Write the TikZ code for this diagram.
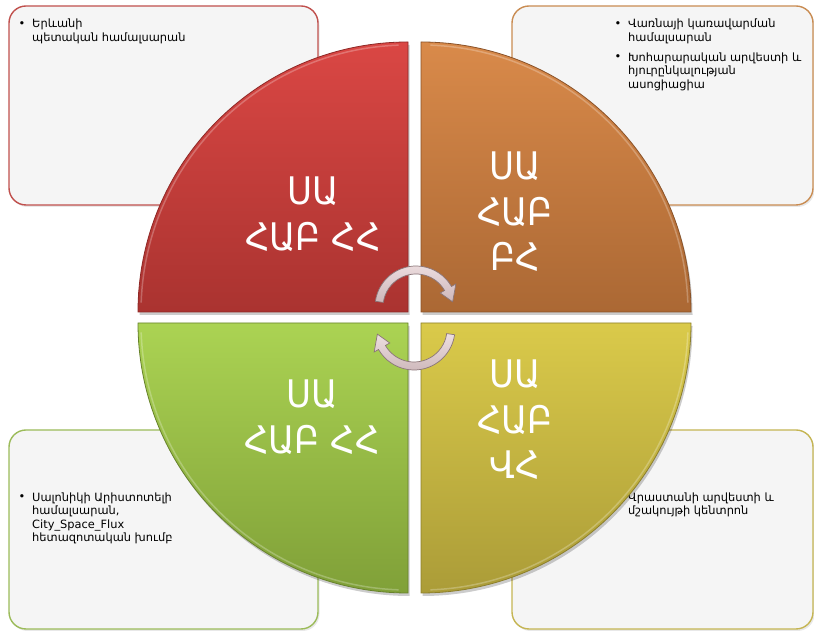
\documentclass[tikz,border=0pt]{standalone}
\usepackage{fontspec}
\setmainfont{DejaVu Sans}
\newfontfamily\bigfont[FakeStretch=0.9]{DejaVu Sans}
\usetikzlibrary{shadows}
\definecolor{boxfill}{HTML}{F5F5F5}
\definecolor{bRed}{HTML}{C0504D}
\definecolor{bOrange}{HTML}{C98C52}
\definecolor{bGreen}{HTML}{9BBB59}
\definecolor{bOlive}{HTML}{C5B553}
\definecolor{redA}{HTML}{DA4744}
\definecolor{redB}{HTML}{AA3330}
\definecolor{redC}{HTML}{8E2826}
\definecolor{orA}{HTML}{D98A4A}
\definecolor{orB}{HTML}{AB6834}
\definecolor{orC}{HTML}{8A5228}
\definecolor{grA}{HTML}{ABD353}
\definecolor{grB}{HTML}{80A038}
\definecolor{grC}{HTML}{67822C}
\definecolor{yeA}{HTML}{DACA4A}
\definecolor{yeB}{HTML}{AB9C38}
\definecolor{yeC}{HTML}{8C7F2C}
\definecolor{arA}{HTML}{EDDEE0}
\definecolor{arB}{HTML}{CDB7BA}
\definecolor{arEdge}{HTML}{8A7578}
\begin{document}
\begin{tikzpicture}[x=1pt,y=1pt,
  infobox/.style={draw=#1, line width=1.4pt, fill=boxfill, rounded corners=17pt,
    inner sep=0pt, drop shadow={opacity=0.18, shadow xshift=1.5pt, shadow yshift=-2pt}},
  smalltext/.style={font=\fontsize{11.4}{13.5}\selectfont, text=black, inner sep=0pt,
    align=left, anchor=north west},
  bulletmark/.style={font=\fontsize{11.4}{13.5}\selectfont, text=black, inner sep=0pt, anchor=base},
  bigtext/.style={font=\bigfont\fontsize{38}{45.5}\selectfont, text=white, align=center, inner sep=0pt},
  quadshadow/.style={fill=black, opacity=0.2},
  arrowshape/.style={top color=arA, bottom color=arB, draw=arEdge, line width=0.7pt}
]
\useasboundingbox (0,0) rectangle (814,631);

% info boxes
\node[infobox=bRed, minimum width=309pt, minimum height=199pt] (boxTL) at (163.5,525.5) {};
\node[infobox=bOrange, minimum width=301pt, minimum height=199pt] (boxTR) at (662.5,525.5) {};
\node[infobox=bGreen, minimum width=309pt, minimum height=199pt] (boxBL) at (163.5,101.5) {};
\node[infobox=bOlive, minimum width=301pt, minimum height=199pt] (boxBR) at (662.5,101.5) {};

% box texts
\node[bulletmark] (bulTL) at (22,603.5) {•};
\node[smalltext] (txtTL) at (32,612.5) {\rule{0pt}{9pt}Երևանի\\պետական համալսարան};
\node[bulletmark] (bulTR1) at (618,603.5) {•};
\node[smalltext] (txtTR1) at (628,612.5) {\rule{0pt}{9pt}Վառնայի կառավարման\\համալսարան};
\node[bulletmark] (bulTR2) at (618,570) {•};
\node[smalltext] (txtTR2) at (628,579) {\rule{0pt}{9pt}Խոհարարական արվեստի և\\հյուրընկալության\\ասոցիացիա};
\node[bulletmark] (bulBL) at (22,130) {•};
\node[smalltext] (txtBL) at (32,139) {\rule{0pt}{9pt}Սալոնիկի Արիստոտելի\\համալսարան,\\City\_Space\_Flux\\հետազոտական խումբ};
\node[smalltext] (txtBR) at (628,139) {\rule{0pt}{9pt}Վրաստանի արվեստի և\\մշակույթի կենտրոն};

% quadrants
\begin{scope}[shift={(408,319)}]
  \fill[quadshadow] (1.5,-3) -- ++(180:270pt) arc[start angle=180, end angle=90, radius=270pt] -- cycle;
  \path[top color=redA, bottom color=redB, draw=redC, line width=0.8pt]
    (0,0) -- (180:270pt) arc[start angle=180, end angle=90, radius=270pt] -- cycle;
  \draw[white, opacity=0.25, line width=1.5pt] (178:267pt) arc[start angle=178, end angle=92, radius=267pt];
\end{scope}
\begin{scope}[shift={(421,319)}]
  \fill[quadshadow] (1.5,-3) -- ++(0:270pt) arc[start angle=0, end angle=90, radius=270pt] -- cycle;
  \path[top color=orA, bottom color=orB, draw=orC, line width=0.8pt]
    (0,0) -- (0:270pt) arc[start angle=0, end angle=90, radius=270pt] -- cycle;
  \draw[white, opacity=0.25, line width=1.5pt] (2:267pt) arc[start angle=2, end angle=88, radius=267pt];
\end{scope}
\begin{scope}[shift={(408,308)}]
  \fill[quadshadow] (1.5,-3) -- ++(180:270pt) arc[start angle=180, end angle=270, radius=270pt] -- cycle;
  \path[top color=grA, bottom color=grB, draw=grC, line width=0.8pt]
    (0,0) -- (180:270pt) arc[start angle=180, end angle=270, radius=270pt] -- cycle;
  \draw[white, opacity=0.25, line width=1.5pt] (182:267pt) arc[start angle=182, end angle=268, radius=267pt];
\end{scope}
\begin{scope}[shift={(421,308)}]
  \fill[quadshadow] (1.5,-3) -- ++(0:270pt) arc[start angle=0, end angle=-90, radius=270pt] -- cycle;
  \path[top color=yeA, bottom color=yeB, draw=yeC, line width=0.8pt]
    (0,0) -- (0:270pt) arc[start angle=0, end angle=-90, radius=270pt] -- cycle;
  \draw[white, opacity=0.25, line width=1.5pt] (-2:267pt) arc[start angle=-2, end angle=-88, radius=267pt];
\end{scope}

% quadrant labels
\node[bigtext] (labRed) at (313,417) {ՍԱ\\ՀԱԲ ՀՀ};
\node[bigtext] (labOrange) at (515,419) {ՍԱ\\ՀԱԲ\\ԲՀ};
\node[bigtext] (labGreen) at (312,214) {ՍԱ\\ՀԱԲ ՀՀ};
\node[bigtext] (labYellow) at (515,211) {ՍԱ\\ՀԱԲ\\ՎՀ};

% circular arrows
\begin{scope}[shift={(416,324)}]
  \path[arrowshape] (172:41pt) arc[start angle=172, end angle=30, radius=41pt]
    -- (30:46pt) -- (8:37pt) -- (30:28pt) -- (30:33pt)
    arc[start angle=30, end angle=172, radius=33pt] -- cycle;
\end{scope}
\begin{scope}[shift={(414,302)}]
  \path[arrowshape] (-8:41pt) arc[start angle=-8, end angle=-150, radius=41pt]
    -- (-150:46pt) -- (-172:37pt) -- (-150:28pt) -- (-150:33pt)
    arc[start angle=-150, end angle=-8, radius=33pt] -- cycle;
\end{scope}
\end{tikzpicture}
\end{document}
